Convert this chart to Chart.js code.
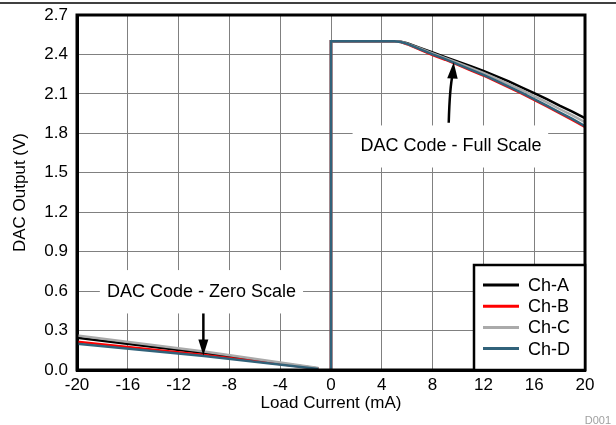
<!DOCTYPE html>
<html>
<head>
<meta charset="utf-8">
<script src="https://cdn.jsdelivr.net/npm/chart.js@4.4.0/dist/chart.umd.min.js"></script>
<style>
  body{margin:0;background:#fff;}
  #wrap{width:616px;height:425px;position:relative;}
</style>
</head>
<body>
<div id="wrap"><canvas id="myChart"></canvas></div>
<script>
// channels
var canales = ['Ch-A', 'Ch-B', 'Ch-C', 'Ch-D'];

// zero scale code (load current, mA)
var xCero = [-20, -10, -1];
var ceroA = [0.245, 0.13, 0.012];
var ceroB = [0.215, 0.115, 0.010];
var ceroC = [0.262, 0.14, 0.015];
var ceroD = [0.200, 0.107, 0.008];

// full scale code
var xFull = [0, 0, 5, 5.5, 6, 7, 8, 9, 10, 11, 12, 13, 14, 15, 16, 17, 18, 19, 20];
var fullA = [0, 2.5, 2.5, 2.497, 2.485, 2.45, 2.415, 2.38, 2.345, 2.31, 2.275, 2.235, 2.195, 2.15, 2.105, 2.06, 2.01, 1.965, 1.915];
var fullB = [0, 2.5, 2.5, 2.494, 2.478, 2.437, 2.396, 2.36, 2.32, 2.28, 2.24, 2.195, 2.15, 2.104, 2.054, 2.004, 1.954, 1.903, 1.848];
var fullC = [0, 2.5, 2.5, 2.496, 2.482, 2.445, 2.408, 2.372, 2.335, 2.298, 2.26, 2.218, 2.175, 2.13, 2.083, 2.035, 1.985, 1.937, 1.885];
var fullD = [0, 2.5, 2.5, 2.495, 2.48, 2.44, 2.40, 2.365, 2.325, 2.285, 2.245, 2.2, 2.155, 2.11, 2.06, 2.01, 1.96, 1.91, 1.855];

var xTicks = {min: -20, max: 20, step: 4};
var yTicks = {min: 0, max: 2.7, step: 0.3};

var colores = ['#000000', '#ff0000', '#aaaaaa', '#31627a'];

function puntos(cero, full){
    var p = [];
    xCero.forEach(function(x, i){ p.push({x: x, y: cero[i]}); });
    p.push({x: -0.5, y: null});
    xFull.forEach(function(x, i){ p.push({x: x, y: full[i]}); });
    return p;
}

var series = [[ceroA, fullA], [ceroB, fullB], [ceroC, fullC], [ceroD, fullD]];

var datasets = canales.map(function(nombre, i){
    return {
        label: nombre,
        data: puntos(series[i][0], series[i][1]),
        borderColor: colores[i],
        backgroundColor: colores[i],
        borderWidth: 2.5,
        pointRadius: 0,
        tension: 0,
        spanGaps: false,
        order: 4 - i
    };
});

var fuente = 'Liberation Sans, Arial, sans-serif';

// white-boxed notes with arrows, frame, legend, top rule
var extras = {
    id: 'extras',
    beforeDatasetsDraw: function(chart){
        var ctx = chart.ctx, xs = chart.scales.x, ys = chart.scales.y;
        ctx.save();
        ctx.font = '18px ' + fuente;
        ctx.textAlign = 'center';
        ctx.textBaseline = 'middle';
        // full scale note
        var x1 = xs.getPixelForValue(1.7), x2 = xs.getPixelForValue(17.1);
        var y1 = ys.getPixelForValue(1.86), y2 = ys.getPixelForValue(1.54);
        ctx.fillStyle = '#fff';
        ctx.fillRect(x1, y1, x2 - x1, y2 - y1);
        ctx.fillStyle = '#000';
        ctx.fillText('DAC Code - Full Scale', xs.getPixelForValue(9.45), ys.getPixelForValue(1.70));
        // zero scale note
        x1 = xs.getPixelForValue(-18.2); x2 = xs.getPixelForValue(-2.2);
        y1 = ys.getPixelForValue(0.76); y2 = ys.getPixelForValue(0.43);
        ctx.fillStyle = '#fff';
        ctx.fillRect(x1, y1, x2 - x1, y2 - y1);
        ctx.fillStyle = '#000';
        ctx.fillText('DAC Code - Zero Scale', xs.getPixelForValue(-10.2), ys.getPixelForValue(0.59));
        ctx.restore();
    },
    afterDatasetsDraw: function(chart){
        var ctx = chart.ctx, xs = chart.scales.x, ys = chart.scales.y, a = chart.chartArea;
        ctx.save();
        ctx.strokeStyle = '#000';
        ctx.fillStyle = '#000';
        ctx.lineWidth = 2.5;
        // arrow zero scale
        var ax = xs.getPixelForValue(-10.05);
        var aTop = ys.getPixelForValue(0.43), aTip = ys.getPixelForValue(0.11);
        ctx.beginPath();
        ctx.moveTo(ax, aTop); ctx.lineTo(ax, aTip - 10);
        ctx.stroke();
        ctx.beginPath();
        ctx.moveTo(ax, aTip); ctx.lineTo(ax - 5, aTip - 16); ctx.lineTo(ax + 5, aTip - 16); ctx.closePath();
        ctx.fill();
        // arrow full scale (slightly curved)
        var bx0 = xs.getPixelForValue(9.27), by0 = ys.getPixelForValue(1.88);
        var bx1 = xs.getPixelForValue(9.66), by1 = ys.getPixelForValue(2.34);
        ctx.beginPath();
        ctx.moveTo(bx0, by0);
        ctx.quadraticCurveTo(bx0 + 1, by1 + 25, bx1 - 1, by1 + 12);
        ctx.stroke();
        ctx.beginPath();
        ctx.moveTo(bx1, by1); ctx.lineTo(bx1 - 6.5, by1 + 16); ctx.lineTo(bx1 + 4, by1 + 16.5); ctx.closePath();
        ctx.fill();
        // frame
        ctx.lineWidth = 3;
        ctx.strokeRect(a.left, a.top, a.right - a.left, a.bottom - a.top);
        // legend
        var lx = a.right - 111, ly = a.bottom - 105;
        ctx.fillStyle = '#fff';
        ctx.fillRect(lx, ly, a.right - lx, a.bottom - ly);
        ctx.lineWidth = 2.5;
        ctx.strokeStyle = '#000';
        ctx.strokeRect(lx, ly, a.right - lx, a.bottom - ly);
        ctx.font = '18px ' + fuente;
        ctx.textAlign = 'left';
        ctx.textBaseline = 'middle';
        chart.data.datasets.forEach(function(ds, i){
            var yy = ly + 20 + i * 21.2;
            ctx.strokeStyle = ds.borderColor;
            ctx.lineWidth = 3;
            ctx.beginPath();
            ctx.moveTo(lx + 9, yy); ctx.lineTo(lx + 45, yy);
            ctx.stroke();
            ctx.fillStyle = '#000';
            ctx.fillText(ds.label, lx + 54, yy + 1);
        });
        // top rule and figure id
        ctx.strokeStyle = '#000';
        ctx.lineWidth = 1.5;
        ctx.beginPath();
        ctx.moveTo(0, 3); ctx.lineTo(chart.width, 3);
        ctx.stroke();
        ctx.fillStyle = '#a0a0a0';
        ctx.font = '11px ' + fuente;
        ctx.textAlign = 'right';
        ctx.textBaseline = 'alphabetic';
        ctx.fillText('D001', 611, 424);
        ctx.restore();
    }
};

function inicio(){
    var ctx = document.getElementById('myChart').getContext('2d');
    const myChart = new Chart(ctx, {
        type: 'line',
        data: { datasets: datasets },
        options: {
            responsive: true,
            maintainAspectRatio: false,
            animation: false,
            layout: { padding: { left: 6, right: 31, top: 15, bottom: 0 } },
            plugins: { legend: { display: false }, tooltip: { enabled: false } },
            scales: {
                x: {
                    type: 'linear',
                    min: xTicks.min, max: xTicks.max,
                    afterFit: function(s){ s.height = 55; s.paddingLeft = 0; s.paddingRight = 0; },
                    ticks: { stepSize: xTicks.step, padding: 5, color: '#000', font: { size: 17, family: fuente } },
                    grid: { color: '#808080', lineWidth: 1, drawTicks: false },
                    border: { display: true, color: '#000', width: 3 },
                    title: { display: true, text: 'Load Current (mA)', color: '#000', font: { size: 17, family: fuente }, padding: { top: 4, bottom: 11 } }
                },
                y: {
                    min: yTicks.min, max: yTicks.max,
                    afterFit: function(s){ s.width = 71; s.paddingTop = 0; s.paddingBottom = 0; },
                    ticks: { stepSize: yTicks.step, padding: 9, color: '#000', font: { size: 17, family: fuente },
                        callback: function(v){ return Number(v).toFixed(1); } },
                    grid: { color: '#808080', lineWidth: 1, drawTicks: false },
                    border: { display: true, color: '#000', width: 3 },
                    title: { display: true, text: 'DAC Output (V)', color: '#000', font: { size: 17, family: fuente }, padding: { top: 4, bottom: 4 } }
                }
            }
        },
        plugins: [extras]
    });
}
window.onload = inicio;
</script>
</body>
</html>
